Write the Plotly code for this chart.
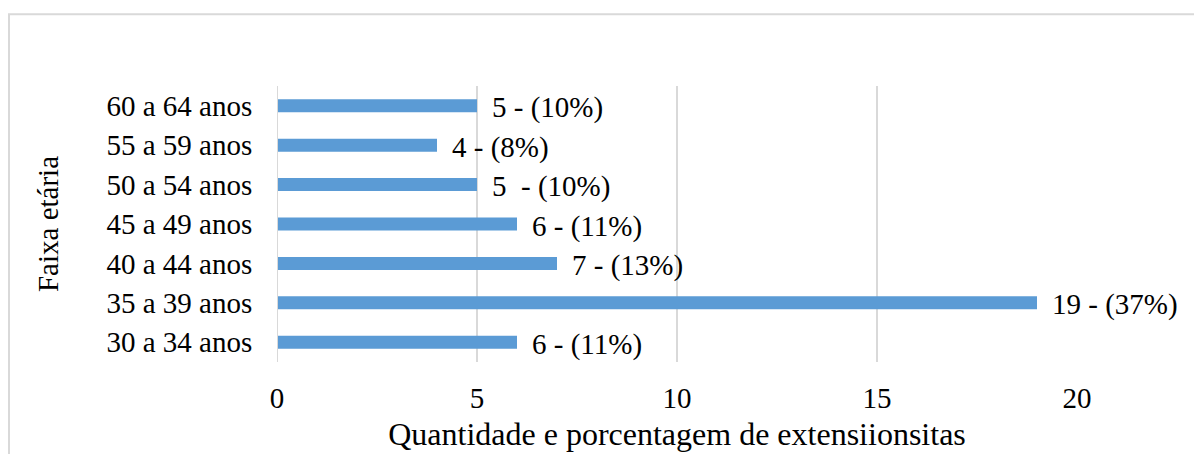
import plotly.graph_objects as go

categories = ["30 a 34 anos", "35 a 39 anos", "40 a 44 anos", "45 a 49 anos",
              "50 a 54 anos", "55 a 59 anos", "60 a 64 anos"]
values = [6, 19, 7, 6, 5, 4, 5]
labels = ["6 - (11%)", "19 - (37%)", "7 - (13%)", "6 - (11%)",
          "5  - (10%)", "4 - (8%)", "5 - (10%)"]
x_ticks = [0, 5, 10, 15, 20]

FONT = "Liberation Serif, Times New Roman, serif"
GRID = "#d9d9d9"

fig = go.Figure(go.Bar(
    x=values, y=categories, orientation="h",
    marker=dict(color="#5b9bd5", line=dict(width=0)),
    hoverinfo="skip",
))

for v, c, t in zip(values, categories, labels):
    fig.add_annotation(x=v, y=c, text=t.replace("  ", "&nbsp; "), showarrow=False,
                       xanchor="left", yanchor="middle", xshift=13, yshift=-2,
                       font=dict(family=FONT, size=29, color="#000000"))

fig.add_shape(type="rect", xref="paper", yref="paper",
              x0=-0.335, x1=1.2, y0=-0.4, y1=1.26,
              line=dict(color=GRID, width=2), fillcolor="rgba(0,0,0,0)", layer="below")

fig.update_layout(
    width=1202, height=454,
    margin=dict(l=269, r=133, t=78, b=100),
    paper_bgcolor="white", plot_bgcolor="white",
    bargap=0.67, showlegend=False,
    font=dict(family=FONT, size=29, color="#000000"),
    xaxis=dict(range=[0, 20], tickvals=x_ticks, showgrid=True, gridcolor=GRID, gridwidth=1.5,
               zeroline=False, showline=False, ticks="outside", ticklen=10,
               tickcolor="rgba(0,0,0,0)", tickfont=dict(size=29),
               title=dict(text="Quantidade e porcentagem de extensiionsitas",
                          font=dict(size=32), standoff=9)),
    yaxis=dict(type="category", categoryorder="array", categoryarray=categories,
               range=[-0.5, 6.5], showgrid=False, zeroline=False,
               showline=False, ticks="outside", ticklen=18, tickcolor="rgba(0,0,0,0)",
               tickfont=dict(size=29),
               title=dict(text="Faixa etária", font=dict(size=29), standoff=39)),
)
fig.add_shape(type="line", xref="x", yref="paper", x0=0, x1=0, y0=0, y1=1,
              line=dict(color=GRID, width=2))

fig.write_html("out.html")
